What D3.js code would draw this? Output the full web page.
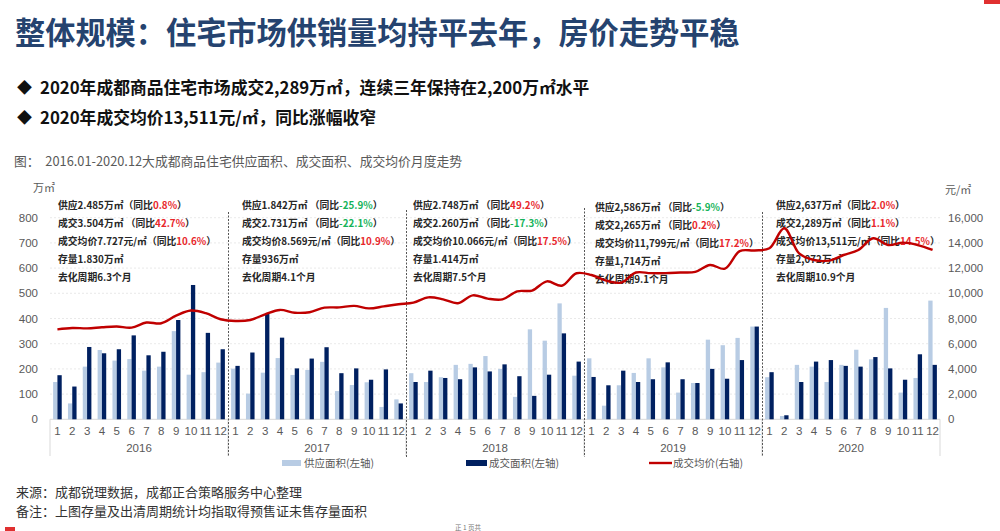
<!DOCTYPE html>
<html><head><meta charset="utf-8">
<script src="https://cdn.jsdelivr.net/npm/d3@7"></script>
<style>
body{margin:0;background:#fff;}
svg{display:block;}
text{font-family:"Noto Sans CJK SC","Liberation Sans",sans-serif;}
.num{font-family:"Liberation Sans","Noto Sans CJK SC",sans-serif;}
</style></head><body>
<svg id="c" width="1000" height="531"></svg>
<script>
// ---------------- DATA ----------------
const years = ["2016","2017","2018","2019","2020"];
const monthLabels = ["1","2","3","4","5","6","7","8","9","10","11","12"];
// 供应面积 (万㎡, left axis)
const supply = [
  148,63,209,275,233,239,193,209,350,177,187,225,
  201,102,185,243,176,196,228,112,136,147,49,79,
  183,148,167,216,220,251,200,89,357,312,460,173,
  242,54,135,184,242,206,106,144,316,294,323,368,
  167,13,216,209,148,216,276,238,442,106,164,471
];
// 成交面积 (万㎡, left axis)
const deal = [
  175,130,287,262,278,333,254,268,394,533,343,278,
  212,265,421,324,202,241,286,183,202,157,198,63,
  148,193,164,159,206,190,218,171,93,177,341,229,
  168,135,193,148,159,226,159,144,200,161,235,368,
  187,16,148,229,235,212,209,247,202,157,258,216
];
// 成交均价 (元/㎡, right axis)
const price = [
  7140,7250,7220,7300,7360,7280,7680,7620,8220,8630,8420,7940,
  7800,7880,8330,8680,8460,8500,8860,8880,9000,8800,8960,9130,
  9260,9680,9520,9210,9840,9580,9520,10160,10220,10950,10600,11590,
  11450,11000,10850,11650,11600,11600,11650,11700,12250,11950,13350,13400,
  13570,15160,13170,12640,12590,13040,13437,14365,13830,14020,13830,13437
];
const leftTicks = [0,100,200,300,400,500,600,700,800];
const rightTicks = [0,2000,4000,6000,8000,10000,12000,14000,16000];
const seriesNames = ["供应面积(左轴)","成交面积(左轴)","成交均价(右轴)"];
// annotation lines per year: segments [text, colourKey] (0 plain, 1 red, 2 green)
const notes = [
  [[["供应2.485万㎡（同比",0],["0.8%",1],["）",0]],
   [["成交3.504万㎡ （同比",0],["42.7%",1],["）",0]],
   [["成交均价7.727元/㎡（同比",0],["10.6%",1],["）",0]],
   [["存量1.830万㎡",0]],
   [["去化周期6.3个月",0]]],
  [[["供应1.842万㎡ （同比",0],["-25.9%",2],["）",0]],
   [["成交2.731万㎡ （同比",0],["-22.1%",2],["）",0]],
   [["成交均价8.569元/㎡（同比",0],["10.9%",1],["）",0]],
   [["存量936万㎡",0]],
   [["去化周期4.1个月",0]]],
  [[["供应2.748万㎡ （同比",0],["49.2%",1],["）",0]],
   [["成交2.260万㎡ （同比",0],["-17.3%",2],["）",0]],
   [["成交均价10.066元/㎡（同比",0],["17.5%",1],["）",0]],
   [["存量1.414万㎡",0]],
   [["去化周期7.5个月",0]]],
  [[["供应2,586万㎡ （同比",0],["-5.9%",2],["）",0]],
   [["成交2,265万㎡ （同比",0],["0.2%",1],["）",0]],
   [["成交均价11,799元/㎡（同比",0],["17.2%",1],["）",0]],
   [["存量1,714万㎡",0]],
   [["去化周期9.1个月",0]]],
  [[["供应2,637万㎡（同比",0],["2.0%",1],["）",0]],
   [["成交2,289万㎡（同比",0],["1.1%",1],["）",0]],
   [["成交均价13,511元/㎡（同比",0],["14.5%",1],["）",0]],
   [["存量2,072万㎡",0]],
   [["去化周期10.9个月",0]]]
];
const titleText = "整体规模：住宅市场供销量均持平去年，房价走势平稳";
const bullets = ["2020年成都商品住宅市场成交2,289万㎡，连续三年保持在2,200万㎡水平","2020年成交均价13,511元/㎡，同比涨幅收窄"];
const captionText = "图：  2016.01-2020.12大成都商品住宅供应面积、成交面积、成交均价月度走势";
const footText = ["来源：成都锐理数据，成都正合策略服务中心整理","备注：上图存量及出清周期统计均指取得预售证未售存量面积"];

// ---------------- LAYOUT ----------------
const svg = d3.select("#c");
const L = 50, R = 940, Y0 = 419.3, YT = 217.7;
const cSupply = "#b8cce4", cDeal = "#002060", cLine = "#c00000";
const cText = "#262626", cAxis = "#595959";
const colourOf = k => k===1 ? "#e8262b" : (k===2 ? "#16b35a" : cText);

const idx = d3.range(supply.length);
const x = d3.scaleBand().domain(idx).range([L, R]);
const bw = x.bandwidth();
const sub = d3.scaleBand().domain(["s","d"]).range([bw*0.21, bw*0.79]);
const yL = d3.scaleLinear().domain([0,800]).range([Y0, YT]);
const yR = d3.scaleLinear().domain([0,16000]).range([Y0, YT]);

// title & bullets
svg.append("text").attr("x",15).attr("y",44).attr("font-size",30.2).attr("font-weight","bold")
  .attr("fill","#25436f").text(titleText);
bullets.forEach((b,i)=>{
  const yy = 88 + i*30;
  svg.append("text").attr("x",17).attr("y",yy).attr("dy","0.36em").attr("font-size",15)
    .attr("fill","#111").text("◆");
  svg.append("text").attr("x",40).attr("y",yy).attr("dy","0.36em").attr("font-size",16.8)
    .attr("font-weight","bold").attr("fill","#111").text(b);
});
svg.append("text").attr("x",14).attr("y",162).attr("dy","0.35em").attr("font-size",12.8)
  .attr("fill",cAxis).attr("xml:space","preserve").style("white-space","pre").text(captionText);

// gridlines
const g = svg.append("g");
g.selectAll("line.grid").data(leftTicks.filter(t=>t>0)).join("line")
  .attr("x1",L).attr("x2",R).attr("y1",d=>yL(d)).attr("y2",d=>yL(d))
  .attr("stroke","#e3e3e3").attr("stroke-dasharray","2,2").attr("stroke-width",0.8);

// left axis
const axL = d3.axisLeft(yL).tickValues(leftTicks).tickSize(0).tickPadding(0).tickFormat(d3.format("d"));
const gL = svg.append("g").attr("transform",`translate(${38},0)`).call(axL);
gL.select(".domain").remove();
gL.selectAll("text").attr("class","num").attr("font-size",11.5).attr("fill",cAxis);
// right axis
const axR = d3.axisRight(yR).tickValues(rightTicks).tickSize(0).tickPadding(0).tickFormat(d3.format(","));
const gR = svg.append("g").attr("transform",`translate(${948},0)`).call(axR);
gR.select(".domain").remove();
gR.selectAll("text").attr("class","num").attr("font-size",11.5).attr("fill",cAxis);
svg.append("text").attr("x",33).attr("y",188).attr("dy","0.35em").attr("font-size",11).attr("fill",cAxis).text("万㎡");
svg.append("text").attr("x",945).attr("y",190).attr("dy","0.35em").attr("font-size",11).attr("fill",cAxis).text("元/㎡");

// category axis
svg.append("line").attr("x1",L).attr("x2",R).attr("y1",Y0).attr("y2",Y0).attr("stroke","#d9d9d9");
const bounds = d3.range(0, years.length+1).map(k=> k<years.length ? x(k*12) : R);
svg.selectAll("line.cat").data(bounds).join("line")
  .attr("x1",d=>d).attr("x2",d=>d).attr("y1",Y0).attr("y2",456).attr("stroke","#d9d9d9");
svg.selectAll("text.m").data(idx).join("text")
  .attr("class","num").attr("x",i=>x(i)+bw/2).attr("y",431).attr("dy","0.35em")
  .attr("text-anchor","middle").attr("font-size",11.5).attr("fill",cAxis)
  .text(i=>monthLabels[i%12]);
svg.selectAll("text.y").data(years).join("text")
  .attr("class","num").attr("x",(d,k)=>(x(k*12)+x(k*12+11)+bw)/2).attr("y",448).attr("dy","0.35em")
  .attr("text-anchor","middle").attr("font-size",11.5).attr("fill",cAxis).text(d=>d);

// bars
svg.append("g").selectAll("rect").data(idx).join("rect")
  .attr("x",i=>x(i)+sub("s")).attr("width",sub.bandwidth())
  .attr("y",i=>yL(supply[i])).attr("height",i=>Y0-yL(supply[i])).attr("fill",cSupply);
svg.append("g").selectAll("rect").data(idx).join("rect")
  .attr("x",i=>x(i)+sub("d")).attr("width",sub.bandwidth())
  .attr("y",i=>yL(deal[i])).attr("height",i=>Y0-yL(deal[i])).attr("fill",cDeal);

// year separators (dotted)
const sepTop = [212,210,208,212];
svg.selectAll("line.sep").data(d3.range(1,years.length)).join("line")
  .attr("x1",k=>x(k*12)+0.5).attr("x2",k=>x(k*12)+0.5)
  .attr("y1",(k,j)=>sepTop[j]).attr("y2",457)
  .attr("stroke","#555").attr("stroke-width",1).attr("stroke-dasharray","2,1.5");

// annotations
const noteDx = [8,14,7,11,14];
const noteDy = [0,0,0,2,0];
notes.forEach((yr,k)=>{
  yr.forEach((line,r)=>{
    const t = svg.append("text").attr("x",x(k*12)+noteDx[k]).attr("y",205+noteDy[k]+r*18)
      .attr("dy","0.36em").attr("font-size",9.8).attr("font-weight","bold");
    line.forEach(seg=>{
      t.append("tspan").attr("fill",colourOf(seg[1])).text(seg[0]);
    });
  });
});

// price line
const lineGen = d3.line().x(i=>x(i)+bw/2).y(i=>yR(price[i])).curve(d3.curveCatmullRom.alpha(0.5));
svg.append("path").datum(idx).attr("d",lineGen).attr("fill","none")
  .attr("stroke",cLine).attr("stroke-width",2.4);

// legend
const lg = svg.append("g").attr("transform","translate(0,463)");
lg.append("rect").attr("x",282).attr("y",-3).attr("width",19).attr("height",6).attr("fill",cSupply);
lg.append("text").attr("x",304).attr("dy","0.35em").attr("font-size",10.5).attr("fill",cAxis).text(seriesNames[0]);
lg.append("rect").attr("x",466).attr("y",-3).attr("width",21).attr("height",6).attr("fill",cDeal);
lg.append("text").attr("x",489).attr("dy","0.35em").attr("font-size",10.5).attr("fill",cAxis).text(seriesNames[1]);
lg.append("line").attr("x1",649).attr("x2",672).attr("y1",0).attr("y2",0).attr("stroke",cLine).attr("stroke-width",2.4);
lg.append("text").attr("x",673).attr("dy","0.35em").attr("font-size",10.5).attr("fill",cAxis).text(seriesNames[2]);

// footer
footText.forEach((f,i)=>{
  svg.append("text").attr("x",16).attr("y",492+i*19).attr("dy","0.35em").attr("font-size",13)
    .attr("fill","#333").text(f);
});
svg.append("text").attr("x",455).attr("y",530).attr("font-size",6.5).attr("fill","#777").text("正 1 页共");
svg.append("rect").attr("x",984).attr("y",0).attr("width",16).attr("height",4).attr("fill","#e03030");
svg.append("rect").attr("x",5).attr("y",527).attr("width",10).attr("height",4).attr("fill","#e03030");
</script>
</body></html>
